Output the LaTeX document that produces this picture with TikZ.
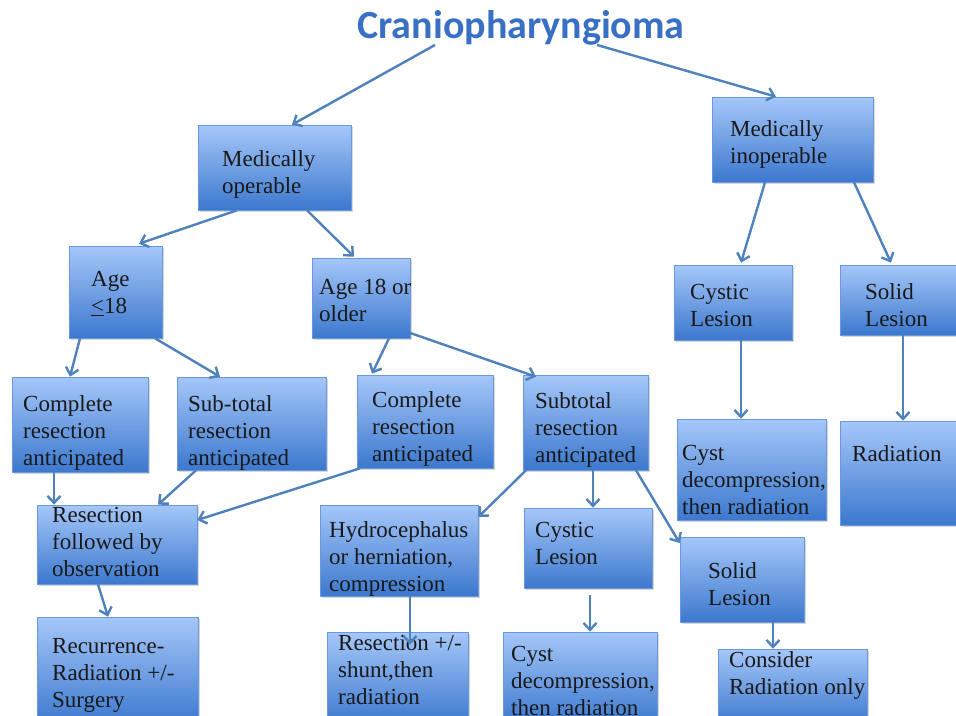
\documentclass[tikz,border=0pt]{standalone}
\usepackage{fontspec}
\setmainfont{Liberation Serif}
\newfontfamily\titlefont{Carlito}
\usetikzlibrary{arrows.meta,fit,shadows,calc}
\definecolor{boxtop}{RGB}{165,199,249}
\definecolor{boxbot}{RGB}{60,120,206}
\definecolor{boxedge}{RGB}{105,152,220}
\definecolor{arrowblue}{RGB}{79,129,189}
\definecolor{titleblue}{RGB}{58,112,196}
\tikzset{
  box/.style={draw=boxedge, line width=0.6pt, top color=boxtop, bottom color=boxbot,
    inner sep=0pt, drop shadow={shadow xshift=1.5pt, shadow yshift=-1.5pt, opacity=0.3}},
  txt/.style={font=\fontsize{23}{27}\selectfont, align=left, inner sep=0pt,
    anchor=north west, text=black!90},
  arr/.style={draw=arrowblue, line width=2.4pt, -{Straight Barb[length=7pt,width=13pt]}},
}
\newcommand\bx[8]{%
  \node[box, fit={(#2,#3) (#4,#5)}] (#1) {};
  \node[txt] (#1t) at (#6,{#7-16}) {#8};}
\begin{document}
\begin{tikzpicture}[x=1pt,y=-1pt]
\useasboundingbox (0,0) rectangle (956,715);
\fill[white] (0,0) rectangle (956,715);

\node[font=\titlefont\bfseries\fontsize{40}{44}\selectfont, text=titleblue,
  inner sep=0pt, anchor=base] (title) at (521,38) {Craniopharyngioma};

\bx{mo}{198}{125}{351}{210}{222}{166}{Medically\\operable}
\bx{mi}{712}{97}{873}{182}{730}{136}{Medically\\inoperable}
\bx{a18}{69}{246}{162}{338}{91}{287}{Age\\\underline{<}18}
\bx{a18o}{312}{258}{410}{338}{319}{295}{Age 18 or\\older}
\bx{cl}{674}{265}{792}{340}{690}{300}{Cystic\\Lesion}
\bx{sl}{840}{265}{962}{335}{865}{299}{Solid\\Lesion}
\bx{crl}{12}{377}{148}{472}{23}{411}{Complete\\resection\\anticipated}
\bx{stl}{177}{377}{326}{470}{188}{411}{Sub-total\\resection\\anticipated}
\bx{crm}{357}{375}{493}{468}{372}{407}{Complete\\resection\\anticipated}
\bx{srm}{523}{375}{648}{470}{535}{408}{Subtotal\\resection\\anticipated}
\bx{cdr}{677}{419}{826}{520}{682}{461}{Cyst\\decompression,\\then radiation}
\bx{rad}{840}{421}{962}{525}{852}{461}{Radiation}
\bx{rfo}{37}{505}{197}{584}{52}{523}{Resection\\followed by\\observation}
\bx{hyd}{320}{505}{478}{596}{329}{537}{Hydrocephalus\\or herniation,\\compression}
\bx{cym}{524}{508}{652}{588}{535}{538}{Cystic\\Lesion}
\bx{slm}{680}{537}{804}{622}{708}{578}{Solid\\Lesion}
\bx{rec}{37}{617}{198}{725}{52}{654}{Recurrence-\\Radiation +/-\\Surgery}
\bx{rsh}{327}{632}{468}{725}{338}{651}{Resection +/-\\shunt,then\\radiation}
\bx{cdb}{503}{632}{657}{725}{511}{662}{Cyst\\decompression,\\then radiation}
\bx{con}{718}{649}{867}{725}{729}{667}{Consider\\Radiation only}

\draw[arr] (title.south -| 435,0) -- (mo.north -| 292,0);
\draw[arr] (title.south -| 597,0) -- (mi.north -| 776,0);
\draw[arr] (mo.south -| 237,0) -- ($(a18.north -| 139,0)+(0,-2)$);
\draw[arr] (mo.south -| 307,0) -- ($(a18o.north -| 354,0)+(0,-1)$);
\draw[arr] (mi.south -| 765,0) -- ($(cl.north -| 741,0)+(0,-2)$);
\draw[arr] (mi.south -| 854,0) -- ($(sl.north -| 891,0)+(0,-2)$);
\draw[arr] (a18.south -| 80,0) -- (crl.north -| 70,0);
\draw[arr] (a18.south -| 155,0) -- (stl.north -| 220,0);
\draw[arr] (a18o.south -| 389,0) -- ($(crm.north -| 372,0)+(0,-1)$);
\draw[arr] (a18o.east |- 0,333) -- ($(srm.north -| 536,0)+(0,2)$);
\draw[arr] (cl.south -| 741,0) -- (cdr.north -| 741,0);
\draw[arr] (sl.south -| 903,0) -- (rad.north -| 903,0);
\draw[arr] (crl.south -| 54,0) -- (rfo.north -| 54,0);
\draw[arr] (stl.south -| 196,0) -- (rfo.north -| 158,0);
\draw[arr] (crm.south -| 360,0) -- (rfo.east |- 0,520);
\draw[arr] (srm.south -| 526,0) -- (hyd.east |- 0,517);
\draw[arr] (srm.south -| 593,0) -- (cym.north -| 593,0);
\draw[arr] (srm.south -| 636,0) -- (slm.west |- 0,543);
\draw[arr] (rfo.south -| 98,0) -- (rec.north -| 108,0);
\draw[arr] (hyd.south -| 410,0) -- ($(rsh.north -| 410,0)+(0,13)$);
\draw[arr] ($(cym.south -| 590,0)+(0,7)$) -- (cdb.north -| 590,0);
\draw[arr] (slm.south -| 773,0) -- (con.north -| 773,0);
\end{tikzpicture}
\end{document}
